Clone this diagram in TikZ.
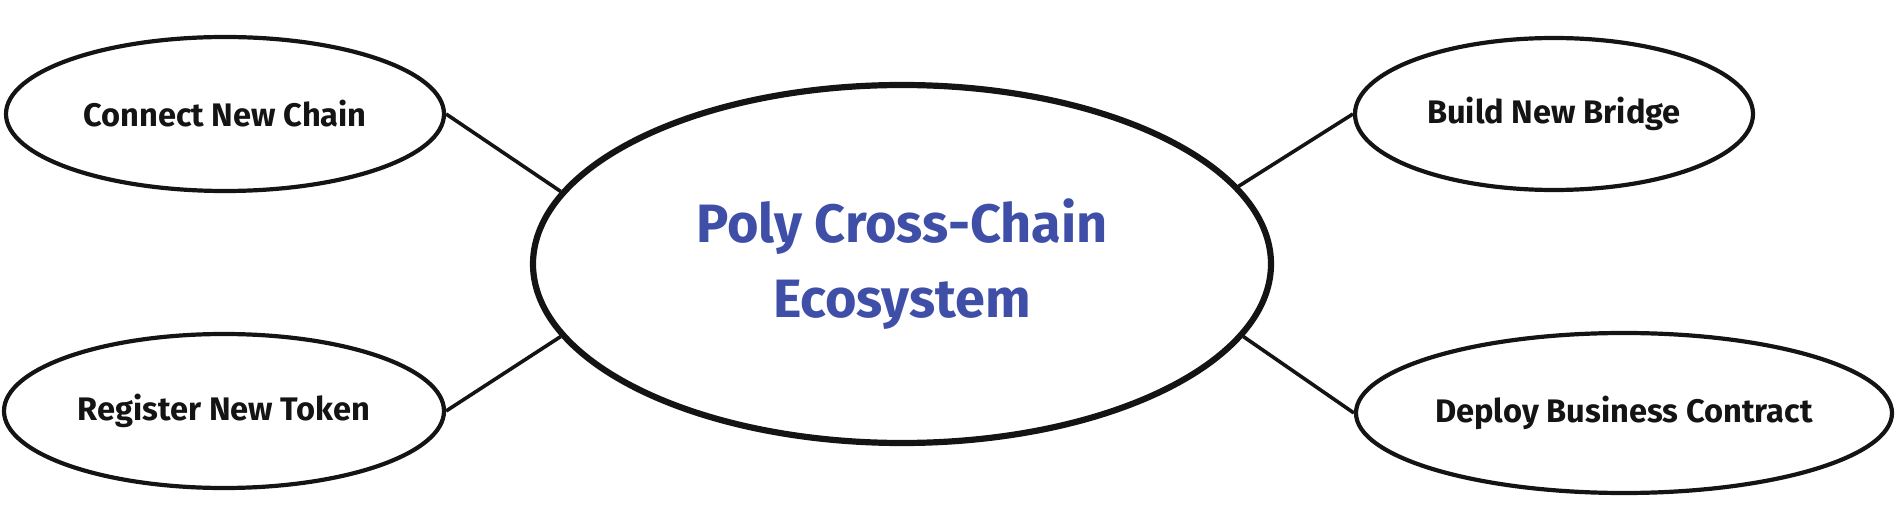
\documentclass[tikz,border=0pt]{standalone}
\usepackage{fontspec}
\setmainfont{Fira Sans}
\usetikzlibrary{shapes.geometric}
\definecolor{inkblack}{RGB}{20,20,20}
\definecolor{polyblue}{RGB}{63,79,168}
\tikzset{
  leaf/.style={ellipse, draw=inkblack, line width=2.1pt, inner sep=0pt,
    font=\fontsize{16.3}{19}\selectfont\bfseries, text=inkblack},
  hub/.style={ellipse, draw=inkblack, line width=3.1pt, inner sep=0pt,
    font=\fontsize{27}{37.5}\selectfont\bfseries, text=polyblue, align=center},
  link/.style={draw=inkblack, line width=1.8pt}
}
\begin{document}
\begin{tikzpicture}[x=0.5pt,y=-0.5pt]
\useasboundingbox (0,0) rectangle (1896,518);
\node[hub, minimum width=369pt, minimum height=179pt] (hub) at (902,264) {Poly Cross-Chain\\Ecosystem};
\node[leaf, minimum width=219pt, minimum height=77pt] (cnc) at (225,114) {Connect New Chain};
\node[leaf, minimum width=220pt, minimum height=77pt] (rnt) at (224,411) {Register New Token};
\node[leaf, minimum width=199pt, minimum height=76pt] (bnb) at (1554,114) {Build New Bridge};
\node[leaf, minimum width=268pt, minimum height=80pt] (dbc) at (1624,413) {Deploy Business Contract};
\draw[link] (cnc.east) -- (hub.168);
\draw[link] (rnt.east) -- (hub.192);
\draw[link] (bnb.west) -- (hub.13);
\draw[link] (dbc.west) -- (hub.-12);
\end{tikzpicture}
\end{document}
